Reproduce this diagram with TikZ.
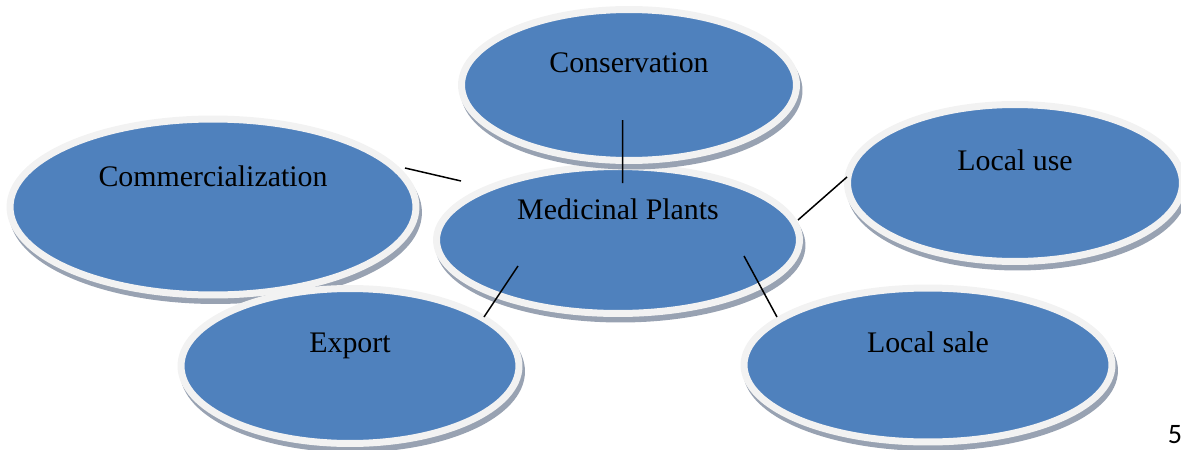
\documentclass[tikz,border=0pt]{standalone}
\usepackage{fontspec}
\setmainfont{Liberation Serif}
\newfontfamily\pagenofont{Carlito}
\usetikzlibrary{shapes.geometric,calc}

\definecolor{bubbleblue}{RGB}{79,129,189}
\definecolor{bubblerim}{RGB}{242,242,242}
\definecolor{bubbleshade}{RGB}{152,162,178}

\newcommand\bubbletextstyle{\fontsize{17}{20}\selectfont}
\newcommand\pagenostyle{\pagenofont\fontsize{16}{18}\selectfont}
\newcommand\bubblerimwidth{0.14cm}

\tikzset{
  bubble/.style={ellipse, inner sep=0pt, outer sep=0pt,
    fill=bubbleblue, draw=bubblerim, line width=\bubblerimwidth,
    preaction={fill=bubbleshade, draw=bubbleshade, line width=\bubblerimwidth,
      transform canvas={shift={(0.05cm,-0.11cm)}}}},
  bubbletext/.style={anchor=base, inner sep=0pt, font=\bubbletextstyle},
  spoke/.style={line width=0.03cm}
}

\begin{document}
\begin{tikzpicture}[x=0.02cm, y=-0.02cm]
  \useasboundingbox (0,0) rectangle (1181,450);

  % bubbles, back to front
  \node[bubble, minimum width=8.12cm, minimum height=3.52cm] (comm) at (213,207) {};
  \node[bubble, minimum width=6.76cm, minimum height=3.10cm] (export) at (350,366) {};
  \node[bubble, minimum width=7.26cm, minimum height=2.94cm] (plants) at (618,240) {};
  \node[bubble, minimum width=6.70cm, minimum height=3.02cm] (cons) at (629,85) {};
  \node[bubble, minimum width=6.70cm, minimum height=3.14cm] (localuse) at (1015,183) {};
  \node[bubble, minimum width=7.36cm, minimum height=3.08cm] (localsale) at (928,365) {};

  \node[bubbletext] (commText) at ($(comm.center)+(0,-21)$) {Commercialization};
  \node[bubbletext] (exportText) at ($(export.center)+(0,-14)$) {Export};
  \node[bubbletext] (plantsText) at ($(plants.center)+(0,-21)$) {Medicinal Plants};
  \node[bubbletext] (consText) at ($(cons.center)+(0,-13)$) {Conservation};
  \node[bubbletext] (localuseText) at ($(localuse.center)+(0,-13)$) {Local use};
  \node[bubbletext] (localsaleText) at ($(localsale.center)+(0,-13)$) {Local sale};

  % spoke ends
  \coordinate (consEnd) at ($(cons.center)+(-6.5,35)$);
  \coordinate (plantsTop) at ($(plants.center)+(4.5,-57)$);
  \coordinate (commEnd) at ($(comm.center)+(192,-39)$);
  \coordinate (plantsLeft) at ($(plants.center)+(-157,-59)$);
  \coordinate (plantsRight) at ($(plants.center)+(180,-20)$);
  \coordinate (localuseEnd) at ($(localuse.center)+(-168,-6)$);
  \coordinate (plantsLow) at ($(plants.center)+(-100,26)$);
  \coordinate (exportEnd) at ($(export.center)+(134,-49)$);
  \coordinate (plantsLowRight) at ($(plants.center)+(126,16)$);
  \coordinate (localsaleEnd) at ($(localsale.center)+(-151,-48)$);

  \draw[spoke] (consEnd) -- (plantsTop);
  \draw[spoke] (commEnd) -- (plantsLeft);
  \draw[spoke] (plantsRight) -- (localuseEnd);
  \draw[spoke] (plantsLow) -- (exportEnd);
  \draw[spoke] (plantsLowRight) -- (localsaleEnd);

  \node[anchor=base, inner sep=0pt, font=\pagenostyle] (pageno) at (1175,443) {5};
\end{tikzpicture}
\end{document}
